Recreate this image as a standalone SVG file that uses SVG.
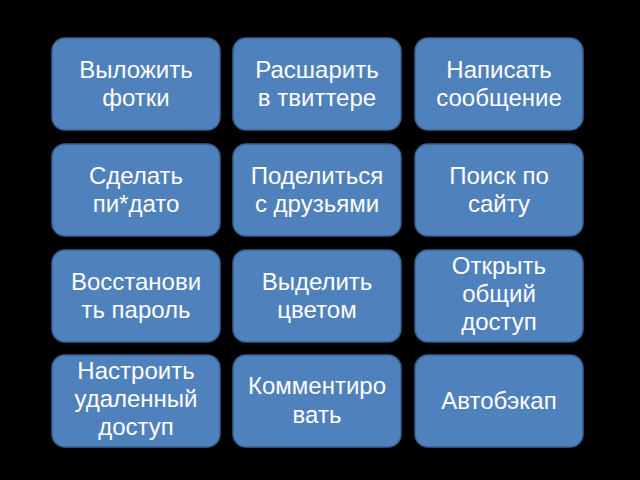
<svg xmlns="http://www.w3.org/2000/svg" width="640" height="480" viewBox="0 0 640 480">
<style>
.box{fill:#4f81bd;stroke:#3b5f8c;stroke-width:1.5}
text{font-family:"Liberation Sans",Arial,sans-serif;font-size:24px;fill:#fff;text-anchor:middle}
</style>
<rect width="640" height="480" fill="#000"/>
<g id="n1"><rect class="box" x="52" y="38" width="168" height="92" rx="13"/><text x="136" y="78">Выложить</text><text x="136" y="106">фотки</text></g>
<g id="n2"><rect class="box" x="233" y="38" width="168" height="92" rx="13"/><text x="317" y="78">Расшарить</text><text x="317" y="106">в твиттере</text></g>
<g id="n3"><rect class="box" x="415" y="38" width="168" height="92" rx="13"/><text x="499" y="78">Написать</text><text x="499" y="106">сообщение</text></g>
<g id="n4"><rect class="box" x="52" y="144" width="168" height="92" rx="13"/><text x="136" y="184">Сделать</text><text x="136" y="212">пи*дато</text></g>
<g id="n5"><rect class="box" x="233" y="144" width="168" height="92" rx="13"/><text x="317" y="184">Поделиться</text><text x="317" y="212">с друзьями</text></g>
<g id="n6"><rect class="box" x="415" y="144" width="168" height="92" rx="13"/><text x="499" y="184">Поиск по</text><text x="499" y="212">сайту</text></g>
<g id="n7"><rect class="box" x="52" y="250" width="168" height="92" rx="13"/><text x="136" y="290">Восстанови</text><text x="136" y="318">ть пароль</text></g>
<g id="n8"><rect class="box" x="233" y="250" width="168" height="92" rx="13"/><text x="317" y="290">Выделить</text><text x="317" y="318">цветом</text></g>
<g id="n9"><rect class="box" x="415" y="250" width="168" height="92" rx="13"/><text x="499" y="274">Открыть</text><text x="499" y="302">общий</text><text x="499" y="330">доступ</text></g>
<g id="n10"><rect class="box" x="52" y="355" width="168" height="92" rx="13"/><text x="136" y="379">Настроить</text><text x="136" y="407">удаленный</text><text x="136" y="435">доступ</text></g>
<g id="n11"><rect class="box" x="233" y="355" width="168" height="92" rx="13"/><text x="317" y="394">Комментиро</text><text x="317" y="423">вать</text></g>
<g id="n12"><rect class="box" x="415" y="355" width="168" height="92" rx="13"/><text x="499" y="409">Автобэкап</text></g>
<g id="connectors"/>
</svg>
